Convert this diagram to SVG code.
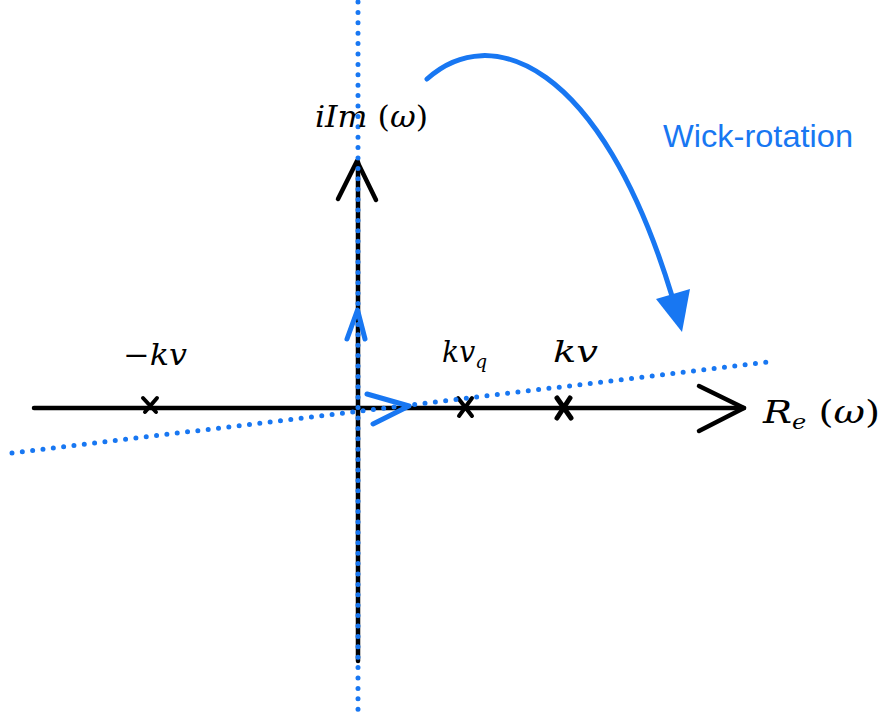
<svg xmlns="http://www.w3.org/2000/svg" width="882" height="722" viewBox="0 0 882 722">
<style>
.ax{stroke:#000;stroke-width:4.5;fill:none;stroke-linecap:round;stroke-linejoin:round}
.cr{stroke:#000;stroke-width:4;fill:none;stroke-linecap:round}
.dot{stroke:#1877f2;stroke-width:5;fill:none;stroke-linecap:round;stroke-dasharray:0 10.4}
.bl{stroke:#1877f2;stroke-width:5;fill:none;stroke-linecap:round;stroke-linejoin:round}
.m{font-family:"DejaVu Serif","Liberation Serif",serif;font-style:italic;fill:#000}
.r{font-style:normal}
</style>
<rect width="882" height="722" fill="#fff"/>
<g id="real-axis">
<line class="ax" x1="34" y1="408" x2="744" y2="408"/>
<polyline class="ax" points="699,386 744,408 699,431"/>
</g>
<g id="imag-axis">
<line class="ax" x1="358" y1="661" x2="358" y2="162"/>
<polyline class="ax" points="338,199 357,161 376,200"/>
</g>
<g id="poles">
<path class="cr" d="M143,398 L156,412 M157,398 L145,412"/>
<path class="cr" d="M458,398 L472,416 M472,398 L459,416"/>
<path class="cr" style="stroke-width:5" d="M557,398 L571,418 M570,398 L557,418"/>
</g>
<g id="connectors">
<line class="dot" x1="358" y1="2" x2="358" y2="715"/>
<line class="dot" x1="12" y1="453" x2="768" y2="362"/>
<polyline class="bl" points="347,339 357.5,310 365,339"/>
<polyline class="bl" points="367,394 409,406 373,424"/>
<path class="bl" d="M427,79 C490,22 600,60 672,296"/>
<polygon points="682,332 656,299 690,289" fill="#1877f2"/>
</g>
<g id="labels">
<text class="m" x="315" y="127" font-size="30" textLength="113" lengthAdjust="spacingAndGlyphs">iIm<tspan class="r"> (</tspan>ω<tspan class="r">)</tspan></text>
<text class="m" x="123" y="365" font-size="29" textLength="64" lengthAdjust="spacingAndGlyphs"><tspan class="r">−</tspan>kv</text>
<text class="m" x="442" y="362" font-size="29" textLength="45" lengthAdjust="spacingAndGlyphs">kv<tspan font-size="19" dy="6">q</tspan></text>
<text class="m" x="553" y="362" font-size="29" textLength="45" lengthAdjust="spacingAndGlyphs">kv</text>
<text class="m" x="763" y="423" font-size="32" textLength="117" lengthAdjust="spacingAndGlyphs">R<tspan font-size="20" dy="6">e</tspan><tspan class="r" dy="-6"> (</tspan>ω<tspan class="r">)</tspan></text>
<text x="663" y="147" font-family="'Liberation Sans',Arial,sans-serif" font-size="32" textLength="190" lengthAdjust="spacingAndGlyphs" fill="#1877f2">Wick-rotation</text>
</g>
</svg>
